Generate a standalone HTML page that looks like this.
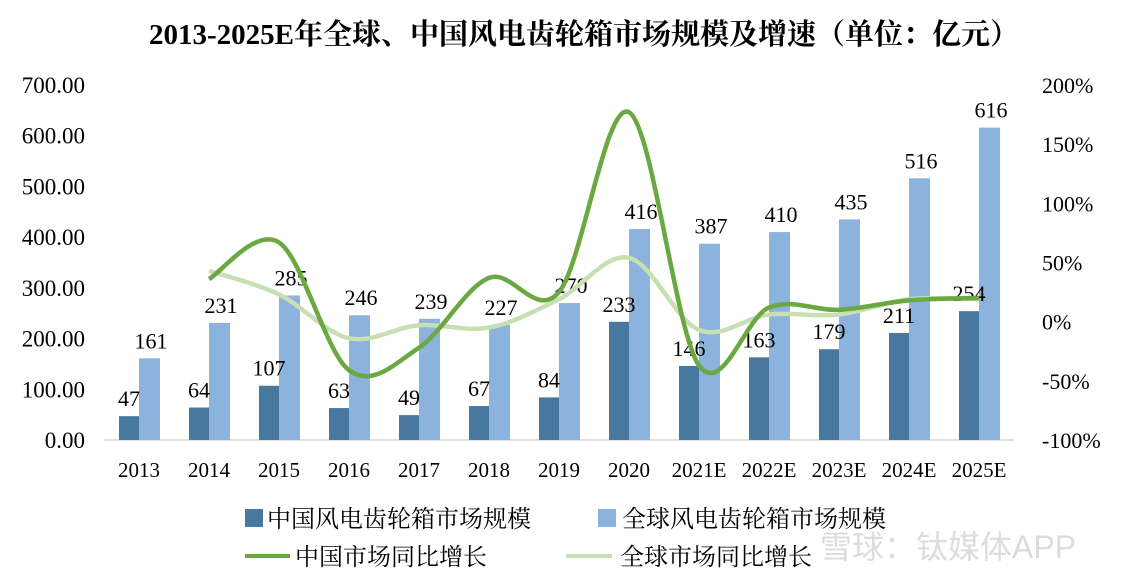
<!DOCTYPE html>
<html><head><meta charset="utf-8"><style>
body{margin:0;background:#fff;}
svg{display:block;font-family:"Liberation Serif","Noto Serif CJK SC",serif;}
</style></head><body>
<svg id="c" width="1123" height="578">
<text x="584" y="44" text-anchor="middle" font-size="29" font-weight="bold">2013-2025E年全球、中国风电齿轮箱市场规模及增速（单位：亿元）</text>
<g id="g"></g>
<g>
<rect x="245" y="509" width="18" height="18" fill="#48779f"/>
<text x="267" y="527" font-size="24">中国风电齿轮箱市场规模</text>
<rect x="598" y="509" width="18" height="18" fill="#8cb2de"/>
<text x="622" y="527" font-size="24">全球风电齿轮箱市场规模</text>
<line x1="245" y1="556" x2="290" y2="556" stroke="#6aa842" stroke-width="4"/>
<text x="295" y="565" font-size="24">中国市场同比增长</text>
<line x1="566" y1="556" x2="612" y2="556" stroke="#c6e0b4" stroke-width="4"/>
<text x="620" y="565" font-size="24">全球市场同比增长</text>
</g>
<text x="820" y="558" font-size="32" fill="#dcdcdc" font-family="Liberation Sans,Noto Sans CJK SC,sans-serif">雪球：钛媒体APP</text>
</svg>
<script>
const categories=["2013","2014","2015","2016","2017","2018","2019","2020","2021E","2022E","2023E","2024E","2025E"];
const chinaSize=[47,64,107,63,49,67,84,233,146,163,179,211,254];
const globalSize=[161,231,285,246,239,227,270,416,387,410,435,516,616];
const chinaGrowth=[null,36,67,-41,-22,37,25,177,-37,12,10,18,20];
const globalGrowth=[null,43,23,-14,-3,-5,19,54,-7,6,6,19,19];
const leftTicks=[0,100,200,300,400,500,600,700];
const rightTicks=[-100,-50,0,50,100,150,200];
const NS="http://www.w3.org/2000/svg";
const g=document.getElementById('g');
const x0=104,x1=1014,yB=440,yT=85;
const xc=i=>x0+(i+0.5)*(x1-x0)/categories.length;
const yL=v=>yB-(v/700)*(yB-yT);
const yR=v=>yB-((v+100)/300)*(yB-yT);
function el(t,a,txt){const e=document.createElementNS(NS,t);for(const k in a)e.setAttribute(k,a[k]);if(txt!=null)e.textContent=txt;g.appendChild(e);return e;}
let e=el('line',{x1:x0,y1:yB,x2:x1,y2:yB,stroke:'#bfbfbf'});


leftTicks.forEach(v=>{const t=el('text',{x:85,y:yL(v)+8,'text-anchor':'end','font-size':23},v.toFixed(2));

});
rightTicks.forEach(v=>{const t=el('text',{x:1042,y:yR(v)+8,'font-size':22},v+'%');

});
categories.forEach((c,i)=>{
const t=el('text',{x:xc(i),y:477,'text-anchor':'middle','font-size':21},c);


const b1=el('rect',{x:xc(i)-20,y:yL(chinaSize[i]),width:20,height:yB-yL(chinaSize[i]),fill:'#48779f'});


const b2=el('rect',{x:xc(i),y:yL(globalSize[i]),width:21,height:yB-yL(globalSize[i]),fill:'#8cb2de'});


const l1=el('text',{x:xc(i)-10,y:yL(chinaSize[i])-10,'text-anchor':'middle','font-size':22},chinaSize[i]);


const l2=el('text',{x:xc(i)+12,y:yL(globalSize[i])-10,'text-anchor':'middle','font-size':22},globalSize[i]);


});
function smooth(vals){const p=[];vals.forEach((v,i)=>{if(v!=null)p.push([xc(i),yR(v)]);});
let d='M'+p[0][0]+','+p[0][1];
for(let i=0;i<p.length-1;i++){const a=p[i-1]||p[i],b=p[i],c=p[i+1],n=p[i+2]||c;
d+=` C${b[0]+(c[0]-a[0])/6},${b[1]+(c[1]-a[1])/6} ${c[0]-(n[0]-b[0])/6},${c[1]-(n[1]-b[1])/6} ${c[0]},${c[1]}`;}
return d;}
const s1=el('path',{d:smooth(globalGrowth),fill:'none',stroke:'#c6e0b4','stroke-width':4.5});


const s2=el('path',{d:smooth(chinaGrowth),fill:'none',stroke:'#6aa842','stroke-width':4.5});


</script>
</body></html>
